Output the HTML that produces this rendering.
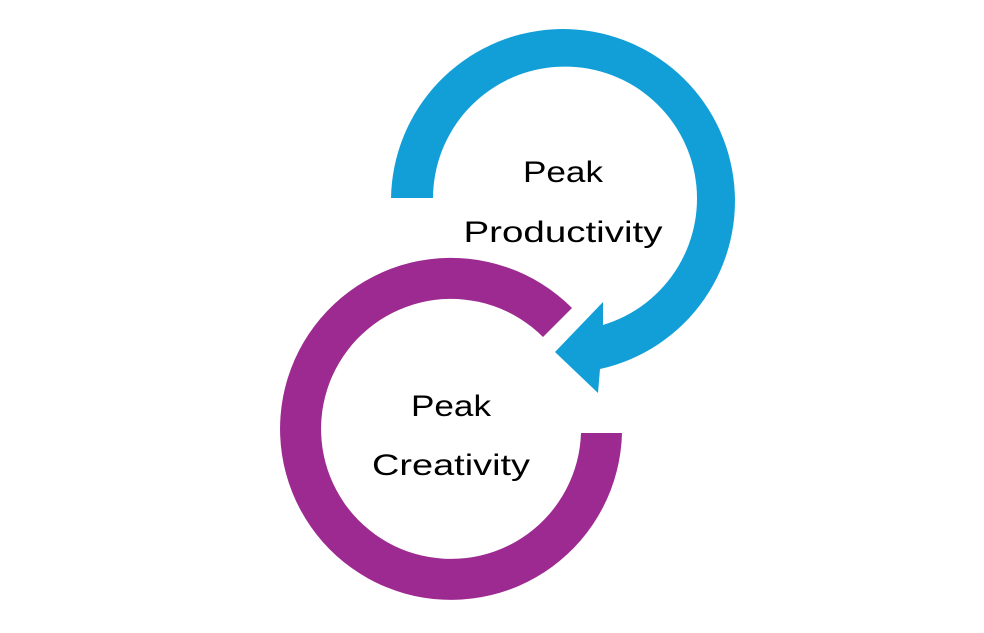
<!DOCTYPE html>
<html><head><meta charset="utf-8"><style>html,body{margin:0;padding:0;background:#fff;}svg{display:block}</style></head>
<body>
<svg width="984" height="633" viewBox="0 0 984 633" xmlns="http://www.w3.org/2000/svg">
<path d="M 391 198 A 172 172 0 1 1 600 369 L 598 393 L 555 352 L 603 302 L 603 325 A 132 132 0 1 0 433 198 Z" fill="#129FD7"/>
<path d="M 622 433 A 171 171 0 1 1 572 308 L 543 337 A 130 130 0 1 0 581 433 Z" fill="#9D2A90"/>
<g font-family="Liberation Sans, sans-serif" font-size="30" fill="#000" text-anchor="middle">
<text x="563" y="182" textLength="80" lengthAdjust="spacingAndGlyphs">Peak</text>
<text x="563" y="242" textLength="199" lengthAdjust="spacingAndGlyphs">Productivity</text>
<text x="451" y="416" textLength="80" lengthAdjust="spacingAndGlyphs">Peak</text>
<text x="451" y="475" textLength="158" lengthAdjust="spacingAndGlyphs">Creativity</text>
</g>
</svg>
</body></html>
